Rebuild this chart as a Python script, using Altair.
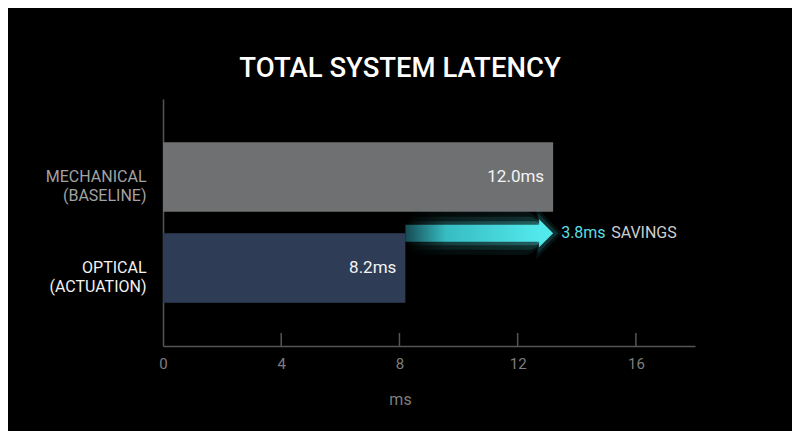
import altair as alt
import pandas as pd

categories = ["MECHANICAL (BASELINE)", "OPTICAL (ACTUATION)"]
bar_values = [13.2, 8.2]
bar_labels = ["12.0ms", "8.2ms"]
bar_colors = ["#6f7071", "#2e3c56"]
savings_value = "3.8ms"
savings_word = "SAVINGS"
x_ticks = [0, 4, 8, 12, 16]
x_max = 18
chart_title = "TOTAL SYSTEM LATENCY"
x_title = "ms"

bars = pd.DataFrame({"cat": categories, "value": bar_values, "label": bar_labels, "color": bar_colors})
arrow = pd.DataFrame({"cat": [categories[1]], "start": [bar_values[1]], "end": [bar_values[0]],
                      "num": [savings_value], "word": [savings_word]})
ticks = pd.DataFrame({"t": x_ticks[1:]})

W, H = 532, 247
PI, PO = 0.236, 0.475
STEP = H / (len(categories) - PI + 2 * PO)
BW = STEP * (1 - PI)
CYAN = "#52e9ec"
xscale = alt.Scale(domain=[0, x_max], nice=False)
yscale = alt.Scale(domain=categories, paddingInner=PI, paddingOuter=PO)

bar_layer = alt.Chart(bars).mark_bar().encode(
    x=alt.X("value:Q", scale=xscale,
            axis=alt.Axis(values=x_ticks, title=x_title, grid=False, ticks=False,
                          domainColor="#555555", domainWidth=1.5, labelFlush=False,
                          labelColor="#7e7e7e", labelFontSize=15, labelPadding=10,
                          titleColor="#7e7e7e", titleFontSize=16, titleFontWeight="normal",
                          titleX=237, titleY=53, titleBaseline="middle", titleAlign="center")),
    y=alt.Y("cat:N", scale=yscale, sort=categories,
            axis=alt.Axis(title=None, ticks=False, domainColor="#555555", domainWidth=1.5,
                          labelExpr="split(datum.label, ' ')", labelFontSize=16,
                          labelLineHeight=19, labelPadding=17, labelAlign="right",
                          labelBaseline="middle",
                          labelColor={"condition": {"test": f"datum.value == '{categories[1]}'",
                                                    "value": "#f2f2f2"},
                                      "value": "#a2a2a2"})),
    color=alt.Color("color:N", scale=None),
)

bar_text = alt.Chart(bars).mark_text(align="right", baseline="middle", dx=-9, fontSize=17,
                                     color="#f4f4f4").encode(
    x=alt.X("value:Q", scale=xscale), y=alt.Y("cat:N", scale=yscale, sort=categories), text="label:N")

tick_layer = alt.Chart(ticks).mark_rule(color="#555555", strokeWidth=1.5).encode(
    x=alt.X("t:Q", scale=xscale), y=alt.value(H - 13), y2=alt.value(H))


def grad(stops):
    return alt.Gradient(gradient="linear", x1=0, x2=1, y1=0, y2=0,
                        stops=[alt.GradientStop(color=c, offset=o) for o, c in stops])


ay = alt.Y("cat:N", scale=yscale, sort=categories, bandPosition=0)
by = alt.Y("cat:N", scale=yscale, sort=categories)


def shaft(h, op, stops, radius=0):
    return alt.Chart(arrow).mark_bar(height=h, yOffset=-BW / 2, x2Offset=-13, opacity=op,
                                     cornerRadius=radius, color=grad(stops)).encode(
        x=alt.X("start:Q", scale=xscale), x2="end:Q", y=by)


glow_stops = [(0, "rgba(82,233,236,0)"), (0.3, "rgba(82,233,236,0.6)"), (1, "rgba(82,233,236,1)")]
glow1 = shaft(43, 0.08, glow_stops, 16)
glow2 = shaft(33, 0.14, glow_stops, 11)
glow3 = shaft(24, 0.26, glow_stops, 6)
main_shaft = shaft(17, 1.0, [(0, "#164a52"), (0.3, "#36bcc2"), (1, CYAN)])

HEAD = "M-1,-1L0,0L-1,1Z"


def head(size, op, xoff=0):
    return alt.Chart(arrow).mark_point(shape=HEAD, filled=True, size=size, opacity=op,
                                       color=CYAN, xOffset=xoff, strokeWidth=0).encode(
        x=alt.X("end:Q", scale=xscale), y=ay)


head_glow1 = head(2600, 0.08, 9)
head_glow2 = head(1600, 0.15, 5)
main_head = head(784, 1.0)

num_text = alt.Chart(arrow).mark_text(align="left", baseline="middle", dx=8, fontSize=16,
                                      color="#5fdde0").encode(
    x=alt.X("end:Q", scale=xscale), y=ay, text="num:N")
word_text = alt.Chart(arrow).mark_text(align="left", baseline="middle", dx=58, fontSize=16,
                                       color="#cfcfcf").encode(
    x=alt.X("end:Q", scale=xscale), y=ay, text="word:N")

chart = alt.layer(
    bar_layer, tick_layer, glow1, glow2, glow3, head_glow1, head_glow2, main_shaft, main_head,
    bar_text, num_text, word_text
).properties(
    width=W, height=H,
    title=alt.TitleParams(chart_title, fontSize=27.5, fontWeight=500, color="#ffffff",
                          anchor="middle", dx=-29, offset=17, font="Roboto"),
    background="#000000",
    padding={"left": 155, "top": 91, "right": 97, "bottom": 85},
    autosize=alt.AutoSizeParams(type="none"),
).configure(font="Roboto").configure_view(strokeWidth=0, stroke="transparent")

chart.save("out.html", embed_options={"renderer": "svg", "actions": False})
